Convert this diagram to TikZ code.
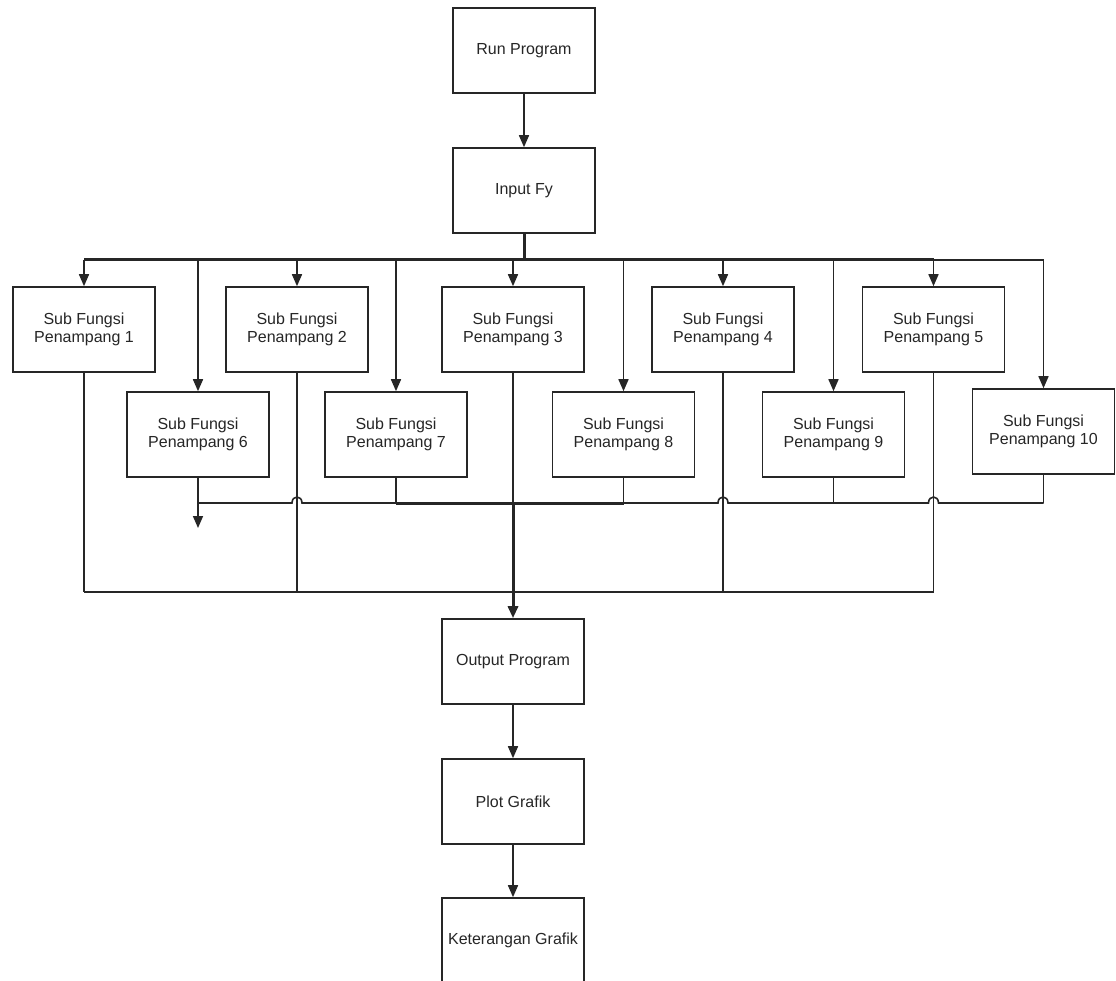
\documentclass[tikz,border=0pt]{standalone}
\usepackage{fontspec}
\setmainfont{Liberation Sans}
\usetikzlibrary{arrows.meta}
\definecolor{ink}{HTML}{262626}
\tikzset{
  box/.style={draw=ink, line width=1.6pt, minimum width=142pt, minimum height=85pt,
    inner sep=0pt, align=center, text=ink, font=\fontsize{16}{18.5}\selectfont},
  ln/.style={draw=ink, line width=1.6pt},
  thk/.style={draw=ink, line width=3pt},
  arr/.style={ln, -{Triangle[length=12pt,width=10pt]}},
  tarr/.style={thk, -{Triangle[length=12pt,width=10pt]}},
}
\begin{document}
\begin{tikzpicture}[x=1pt,y=-1pt]
\useasboundingbox (0,0) rectangle (1116,981);
\clip (0,0) rectangle (1116,981);
\fill[white] (0,0) rectangle (1116,981);

% nodes
\node[box] (run)   at (524,50.5)  {Run Program};
\node[box] (input) at (524,190.5) {Input Fy};
\node[box] (sf1)  at (84,329.5)   {Sub Fungsi\\Penampang 1};
\node[box] (sf2)  at (297,329.5)  {Sub Fungsi\\Penampang 2};
\node[box] (sf3)  at (513,329.5)  {Sub Fungsi\\Penampang 3};
\node[box] (sf4)  at (723,329.5)  {Sub Fungsi\\Penampang 4};
\node[box] (sf5)  at (933.5,329.5){Sub Fungsi\\Penampang 5};
\node[box] (sf6)  at (198,434.5)  {Sub Fungsi\\Penampang 6};
\node[box] (sf7)  at (396,434.5)  {Sub Fungsi\\Penampang 7};
\node[box] (sf8)  at (623.5,434.5){Sub Fungsi\\Penampang 8};
\node[box] (sf9)  at (833.5,434.5){Sub Fungsi\\Penampang 9};
\node[box] (sf10) at (1043.5,431.5){Sub Fungsi\\Penampang 10};
\node[box] (out)  at (513,661.5)  {Output Program};
\node[box] (plot) at (513,801.5)  {Plot Grafik};
\node[box] (ket)  at (513,940.5)  {Keterangan Grafik};

% helper coordinates
\coordinate (bus) at (524,260);
\coordinate (low) at (513,503);
\coordinate (bot) at (513,592);
\coordinate (dangle) at (198,528);

% top
\draw[arr] (run) -- (input);
\draw[thk] (input) -- (bus);
\draw[thk] (sf1.north |- bus) -- (sf5.north |- bus);
\draw[ln] (sf5.north |- bus) -- (sf10.north |- bus);
\foreach \n in {sf1,sf2,sf3,sf4,sf5,sf6,sf7,sf8,sf9,sf10}
  \draw[arr] (\n.north |- bus) -- (\n.north);

% lower bus (from second row), with jumps
\draw[arr] (sf6.south) -- (dangle);
\draw[ln] (sf6.south |- low) -- (292,503) .. controls (292,495) and (302,495) .. (302,503)
  -- (718,503) .. controls (718,495) and (728,495) .. (728,503)
  -- (928.5,503) .. controls (928.5,495) and (938.5,495) .. (938.5,503)
  -- (sf10.south |- low);
\draw[thk] (sf7.south |- low) -- (sf8.south |- low);
\foreach \n in {sf7,sf8,sf9,sf10}
  \draw[ln] (\n.south) -- (\n.south |- low);

% bottom line (from first row)
\draw[ln] (sf1.south |- bot) -- (sf5.south |- bot);
\foreach \n in {sf1,sf2,sf4,sf5}
  \draw[ln] (\n.south) -- (\n.south |- bot);
\draw[ln] (sf3.south) -- (low);
\draw[tarr] (low) -- (out.north);

% lower chain
\draw[arr] (out) -- (plot);
\draw[arr] (plot) -- (ket);
\end{tikzpicture}
\end{document}
